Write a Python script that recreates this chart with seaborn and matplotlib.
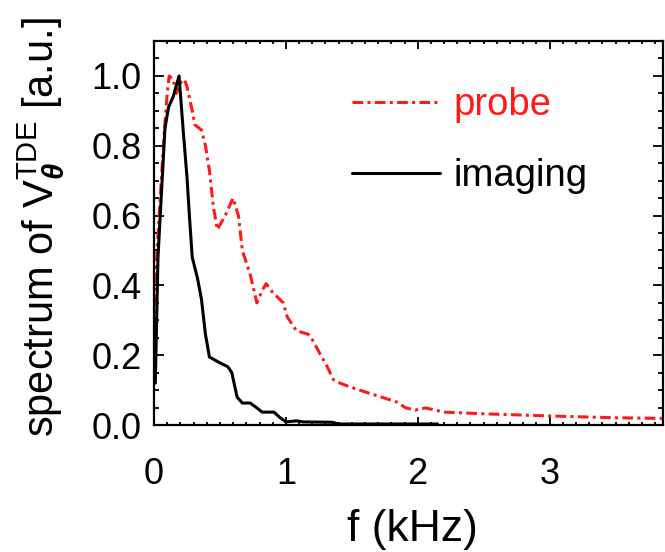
import numpy as np
import pandas as pd
import matplotlib
matplotlib.use("Agg")
import matplotlib.pyplot as plt
import seaborn as sns
from matplotlib.ticker import MultipleLocator

# ---- data ----
probe_f = [0.0, 0.02, 0.06, 0.08, 0.10, 0.115, 0.145, 0.17, 0.20, 0.23, 0.25, 0.29, 0.31,
           0.36, 0.39, 0.42, 0.45, 0.48, 0.54, 0.60, 0.64, 0.67, 0.73, 0.78, 0.82, 0.85,
           0.90, 0.98, 1.01, 1.08, 1.17, 1.20, 1.25, 1.31, 1.36, 1.41, 1.48, 1.60, 1.75,
           1.84, 1.91, 1.98, 2.06, 2.20, 2.52, 3.00, 3.48, 3.86]
probe_v = [0.15, 0.48, 0.73, 0.85, 0.95, 1.00, 0.99, 0.95, 0.98, 0.99, 0.97, 0.90, 0.86,
           0.845, 0.80, 0.73, 0.625, 0.56, 0.60, 0.65, 0.60, 0.50, 0.43, 0.35, 0.385, 0.405,
           0.38, 0.35, 0.31, 0.27, 0.26, 0.245, 0.21, 0.17, 0.13, 0.12, 0.11, 0.095, 0.077,
           0.066, 0.049, 0.043, 0.049, 0.037, 0.032, 0.026, 0.021, 0.019]

imaging_f = [0.01, 0.03, 0.083, 0.11, 0.145, 0.19, 0.22, 0.25, 0.27, 0.29, 0.33, 0.36,
             0.39, 0.42, 0.50, 0.56, 0.59, 0.63, 0.67, 0.73, 0.78, 0.82, 0.91, 0.95, 1.00,
             1.08, 1.13, 1.35, 1.40, 2.15]
imaging_v = [0.12, 0.48, 0.85, 0.91, 0.94, 1.00, 0.85, 0.71, 0.59, 0.48, 0.42, 0.36,
             0.26, 0.195, 0.178, 0.167, 0.15, 0.08, 0.063, 0.063, 0.049, 0.037, 0.037, 0.023,
             0.009, 0.012, 0.009, 0.008, 0.003, 0.003]

series_names = ["probe", "imaging"]
x_ticks = [0, 1, 2, 3]
y_ticks = [0.0, 0.2, 0.4, 0.6, 0.8, 1.0]

df = pd.concat([
    pd.DataFrame({"f": probe_f, "v": probe_v, "series": "probe"}),
    pd.DataFrame({"f": imaging_f, "v": imaging_v, "series": "imaging"}),
], ignore_index=True)

sns.set_theme(style="ticks")
plt.rcParams["font.family"] = ["Liberation Sans", "DejaVu Sans"]
plt.rcParams["text.color"] = "black"
plt.rcParams["axes.labelcolor"] = "black"
plt.rcParams["mathtext.fontset"] = "custom"
plt.rcParams["mathtext.rm"] = "Liberation Sans"
plt.rcParams["mathtext.it"] = "Liberation Sans:italic"
plt.rcParams["mathtext.bf"] = "Liberation Sans:bold:italic"

fig = plt.figure(figsize=(6.65, 5.52), dpi=100)
ax = fig.add_axes([0.2316, 0.230, 0.7654, 0.6957])

sns.lineplot(data=df, x="f", y="v", hue="series", style="series",
             palette={"probe": "#ff1a1a", "imaging": "black"},
             dashes={"probe": (3.5, 1.4, 1.0, 1.4), "imaging": ""},
             linewidth=2.2, ax=ax, legend=False, sort=False)

ax.set_xlim(0, 3.86)
ax.set_ylim(0, 1.1)
ax.set_xticks(x_ticks)
ax.set_xticklabels([str(t) for t in x_ticks])
ax.set_yticks(y_ticks)
ax.set_yticklabels([f"{t:.1f}" for t in y_ticks])
ax.xaxis.set_minor_locator(MultipleLocator(0.1))
ax.yaxis.set_minor_locator(MultipleLocator(0.05))

ax.tick_params(axis="both", which="both", direction="in", top=True, right=True,
               colors="black", labelcolor="black", width=1.3)
ax.tick_params(axis="x", which="major", length=6, pad=23, labelsize=26)
ax.tick_params(axis="x", which="minor", length=2.5)
ax.tick_params(axis="y", which="major", length=7, pad=9, labelsize=26)
ax.tick_params(axis="y", which="minor", length=3.5)
for s in ax.spines.values():
    s.set_linewidth(1.6)
    s.set_color("black")

ax.set_xlabel("f (kHz)", fontsize=32, va="center", color="black")
ax.xaxis.set_label_coords(0.507, -0.273)
ax.set_ylabel(r"spectrum of V$_{\mathbf{\theta}}^{\mathrm{TDE}}$ [a.u.]", fontsize=30,
              va="center", color="black")
ax.yaxis.set_label_coords(-0.222, 0.515)

lines = ax.get_lines()
leg = ax.legend(lines[:2], series_names, loc="upper left", bbox_to_anchor=(0.389, 0.88),
                frameon=False, fontsize=27.5, handlelength=2.3, handletextpad=0.35,
                labelspacing=0.92, borderpad=0, borderaxespad=0, labelcolor="linecolor")

fig.savefig("out.png", dpi=100)
